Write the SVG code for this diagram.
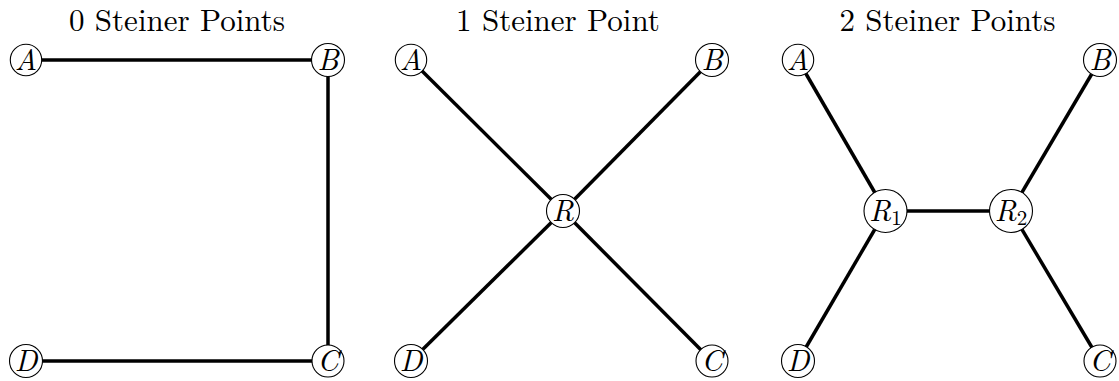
<svg xmlns="http://www.w3.org/2000/svg" width="1119" height="381" viewBox="0 0 1119 381">
<style>
.title{font-size:31px;fill:#000;text-anchor:middle}
.lbl{font-style:italic;font-size:30px;fill:#000;text-anchor:middle}
.sub{font-style:normal;font-size:21px}
.node circle{fill:#fff;stroke:#000;stroke-width:1.1}
.edge{stroke:#000;stroke-width:3.5;fill:none}
</style>
<rect width="1119" height="381" fill="#fff"/>
<g font-family="Latin Modern Roman, Liberation Serif, serif">
<text class="title" x="177" y="31">0 Steiner Points</text>
<text class="title" x="558" y="31">1 Steiner Point</text>
<text class="title" x="947.5" y="31">2 Steiner Points</text>
<g id="connectors">
<line class="edge" x1="26" y1="60" x2="328" y2="60"/>
<line class="edge" x1="328" y1="60" x2="328" y2="361"/>
<line class="edge" x1="26" y1="361" x2="328" y2="361"/>
<line class="edge" x1="411" y1="60" x2="563" y2="211"/>
<line class="edge" x1="712" y1="60" x2="563" y2="211"/>
<line class="edge" x1="411" y1="361" x2="563" y2="211"/>
<line class="edge" x1="712" y1="361" x2="563" y2="211"/>
<line class="edge" x1="798" y1="60" x2="885.5" y2="211"/>
<line class="edge" x1="798" y1="361" x2="885.5" y2="211"/>
<line class="edge" x1="885.5" y1="211" x2="1011" y2="211"/>
<line class="edge" x1="1100" y1="60" x2="1011" y2="211"/>
<line class="edge" x1="1100" y1="361" x2="1011" y2="211"/>
</g>
<g id="p1-A" class="node"><circle cx="26" cy="60" r="15.7"/><text class="lbl" x="26" y="70">A</text></g>
<g id="p1-B" class="node"><circle cx="328" cy="60" r="16.5"/><text class="lbl" x="328" y="70">B</text></g>
<g id="p1-C" class="node"><circle cx="328" cy="361" r="16"/><text class="lbl" x="328" y="371">C</text></g>
<g id="p1-D" class="node"><circle cx="26" cy="361" r="16.5"/><text class="lbl" x="26" y="371">D</text></g>
<g id="p2-A" class="node"><circle cx="411" cy="60" r="15.7"/><text class="lbl" x="411" y="70">A</text></g>
<g id="p2-B" class="node"><circle cx="712" cy="60" r="16.5"/><text class="lbl" x="712" y="70">B</text></g>
<g id="p2-R" class="node"><circle cx="563" cy="211" r="16.5"/><text class="lbl" x="563" y="221">R</text></g>
<g id="p2-C" class="node"><circle cx="712" cy="361" r="16"/><text class="lbl" x="712" y="371">C</text></g>
<g id="p2-D" class="node"><circle cx="411" cy="361" r="16.5"/><text class="lbl" x="411" y="371">D</text></g>
<g id="p3-A" class="node"><circle cx="798" cy="60" r="15.7"/><text class="lbl" x="798" y="70">A</text></g>
<g id="p3-B" class="node"><circle cx="1100" cy="60" r="16.5"/><text class="lbl" x="1100" y="70">B</text></g>
<g id="p3-R1" class="node"><circle cx="885.5" cy="211" r="21.5"/><text class="lbl" x="885.5" y="221">R<tspan class="sub" dy="4">1</tspan></text></g>
<g id="p3-R2" class="node"><circle cx="1011" cy="211" r="21.5"/><text class="lbl" x="1011" y="221">R<tspan class="sub" dy="4">2</tspan></text></g>
<g id="p3-C" class="node"><circle cx="1100" cy="361" r="16"/><text class="lbl" x="1100" y="371">C</text></g>
<g id="p3-D" class="node"><circle cx="798" cy="361" r="16.5"/><text class="lbl" x="798" y="371">D</text></g>
</g>
</svg>
